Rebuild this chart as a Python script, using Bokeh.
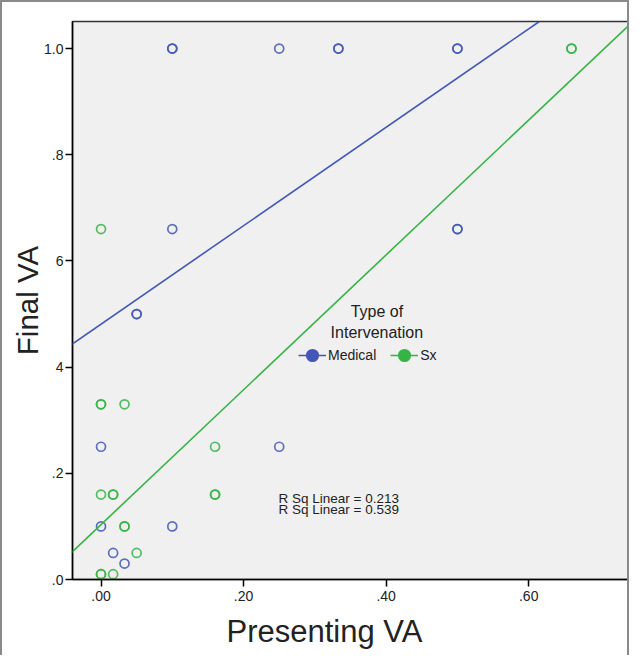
from bokeh.plotting import figure
from bokeh.models import (Range1d, FixedTicker, Slope, Label, Legend, LegendItem, Title)
from bokeh.embed import file_html
from bokeh.resources import INLINE

NAN = float("nan")

# ---- data ----
med_x = [0.10, 0.10, 0.25, 0.333, 0.333, 0.50, 0.50, 0.10, 0.50, 0.50, 0.05, 0.05,
         0.00, 0.25, 0.00, 0.10, 0.017, 0.033]
med_y = [1.00, 1.00, 1.00, 1.00, 1.00, 1.00, 1.00, 0.66, 0.66, 0.66, 0.50, 0.50,
         0.25, 0.25, 0.10, 0.10, 0.05, 0.03]
sx_x = [0.66, 0.66, 0.00, 0.00, 0.00, 0.033, 0.16, 0.00, 0.017, 0.017, 0.16, 0.16,
        0.033, 0.033, 0.05, 0.00, 0.00, 0.017]
sx_y = [1.00, 1.00, 0.66, 0.33, 0.33, 0.33, 0.25, 0.16, 0.16, 0.16, 0.16, 0.16,
        0.10, 0.10, 0.05, 0.01, 0.01, 0.01]

med_fit = {"intercept": 0.481, "slope": 0.927, "r2": 0.213}
sx_fit = {"intercept": 0.1034, "slope": 1.270, "r2": 0.539}

x_ticks = [0.0, 0.2, 0.4, 0.6]
x_tick_labels = [".00", ".20", ".40", ".60"]
y_ticks = [0.0, 0.2, 0.4, 0.6, 0.8, 1.0]
y_tick_labels = [".0", ".2", "4", "6", ".8", "1.0"]

groups = ["Medical", "Sx"]

BLUE = "#4357b8"
GREEN = "#36b446"
FONT = "Liberation Sans"
TXT = "#222222"

p = figure(width=629, height=655, output_backend="svg", toolbar_location=None,
           x_range=Range1d(-0.040, 0.740), y_range=Range1d(0.0, 1.051),
           min_border_left=70, min_border_top=19, min_border_right=3,
           min_border_bottom=77)
p.background_fill_color = "#f0f0f0"
p.border_fill_color = "white"
p.outline_line_color = "#333333"
p.outline_line_width = 1.5
p.grid.visible = False
p.styles = {"border-top": "2px solid #8a8a8a", "border-left": "2px solid #8a8a8a",
            "border-right": "2px solid #8a8a8a"}

for ax in (p.xaxis[0], p.yaxis[0]):
    ax.axis_line_color = "black"
    ax.axis_line_width = 1.5
    ax.major_tick_line_color = "black"
    ax.major_tick_line_width = 1.5
    ax.major_tick_out = 7
    ax.major_tick_in = 0
    ax.minor_tick_line_color = None
    ax.major_label_text_font = FONT
    ax.major_label_text_font_size = "14px"
    ax.major_label_text_color = TXT
    ax.axis_label_text_font = FONT
    ax.axis_label_text_font_style = "normal"
    ax.axis_label_text_color = TXT

p.xaxis.ticker = FixedTicker(ticks=x_ticks)
p.xaxis.major_label_overrides = dict(zip(x_ticks, x_tick_labels))
p.yaxis.ticker = FixedTicker(ticks=y_ticks)
p.yaxis.major_label_overrides = dict(zip(y_ticks, y_tick_labels))
p.xaxis.major_label_standoff = 4
p.yaxis.major_label_standoff = 2
p.yaxis.axis_label = "Final VA"
p.yaxis.axis_label_text_font_size = "29.5px"
p.yaxis.axis_label_standoff = -3

# x-axis title, placed left of the frame centre as in the original
p.add_layout(Title(text="Presenting VA", align="left", offset=154, standoff=17,
                   text_font=FONT, text_font_size="31px", text_font_style="normal",
                   text_color=TXT), "below")

# fit lines
p.add_layout(Slope(gradient=med_fit["slope"], y_intercept=med_fit["intercept"],
                   line_color=BLUE, line_width=1.6))
p.add_layout(Slope(gradient=sx_fit["slope"], y_intercept=sx_fit["intercept"],
                   line_color=GREEN, line_width=1.6))

# points
p.scatter(med_x, med_y, marker="circle", size=9, fill_color=None,
          line_color=BLUE, line_width=1.7, line_alpha=0.85)
p.scatter(sx_x, sx_y, marker="circle", size=9, fill_color=None,
          line_color=GREEN, line_width=1.7, line_alpha=0.85)

# legend key renderers (no visible data)
lm = p.line([NAN], [NAN], line_color=BLUE, line_width=1.5)
cm = p.scatter([NAN], [NAN], marker="circle", fill_color=BLUE, line_color=BLUE,
               line_width=2)
ls = p.line([NAN], [NAN], line_color=GREEN, line_width=1.5)
cs = p.scatter([NAN], [NAN], marker="circle", fill_color=GREEN, line_color=GREEN,
               line_width=2)

legend = Legend(items=[LegendItem(label=groups[0], renderers=[lm, cm], index=0),
                       LegendItem(label=groups[1], renderers=[ls, cs], index=0)],
                orientation="horizontal", location=(226, 210),
                glyph_width=28, glyph_height=28, label_standoff=2, spacing=14,
                padding=0, margin=0, border_line_color=None,
                background_fill_alpha=0, label_text_font=FONT,
                label_text_font_size="14px", label_text_color=TXT)
p.add_layout(legend, "center")

p.add_layout(Label(x=0.387, y=0.504, text="Type of", text_align="center",
                   text_baseline="middle", text_font=FONT, text_font_size="16px",
                   text_color=TXT))
p.add_layout(Label(x=0.387, y=0.466, text="Intervenation", text_align="center",
                   text_baseline="middle", text_font=FONT, text_font_size="16px",
                   text_color=TXT))

p.add_layout(Label(x=0.249, y=0.152, text="R Sq Linear = %.3f" % med_fit["r2"],
                   text_align="left", text_baseline="middle", text_font=FONT,
                   text_font_size="13.5px", text_color=TXT))
p.add_layout(Label(x=0.249, y=0.1316, text="R Sq Linear = %.3f" % sx_fit["r2"],
                   text_align="left", text_baseline="middle", text_font=FONT,
                   text_font_size="13.5px", text_color=TXT))

open("out.html", "w").write(file_html(p, INLINE))
